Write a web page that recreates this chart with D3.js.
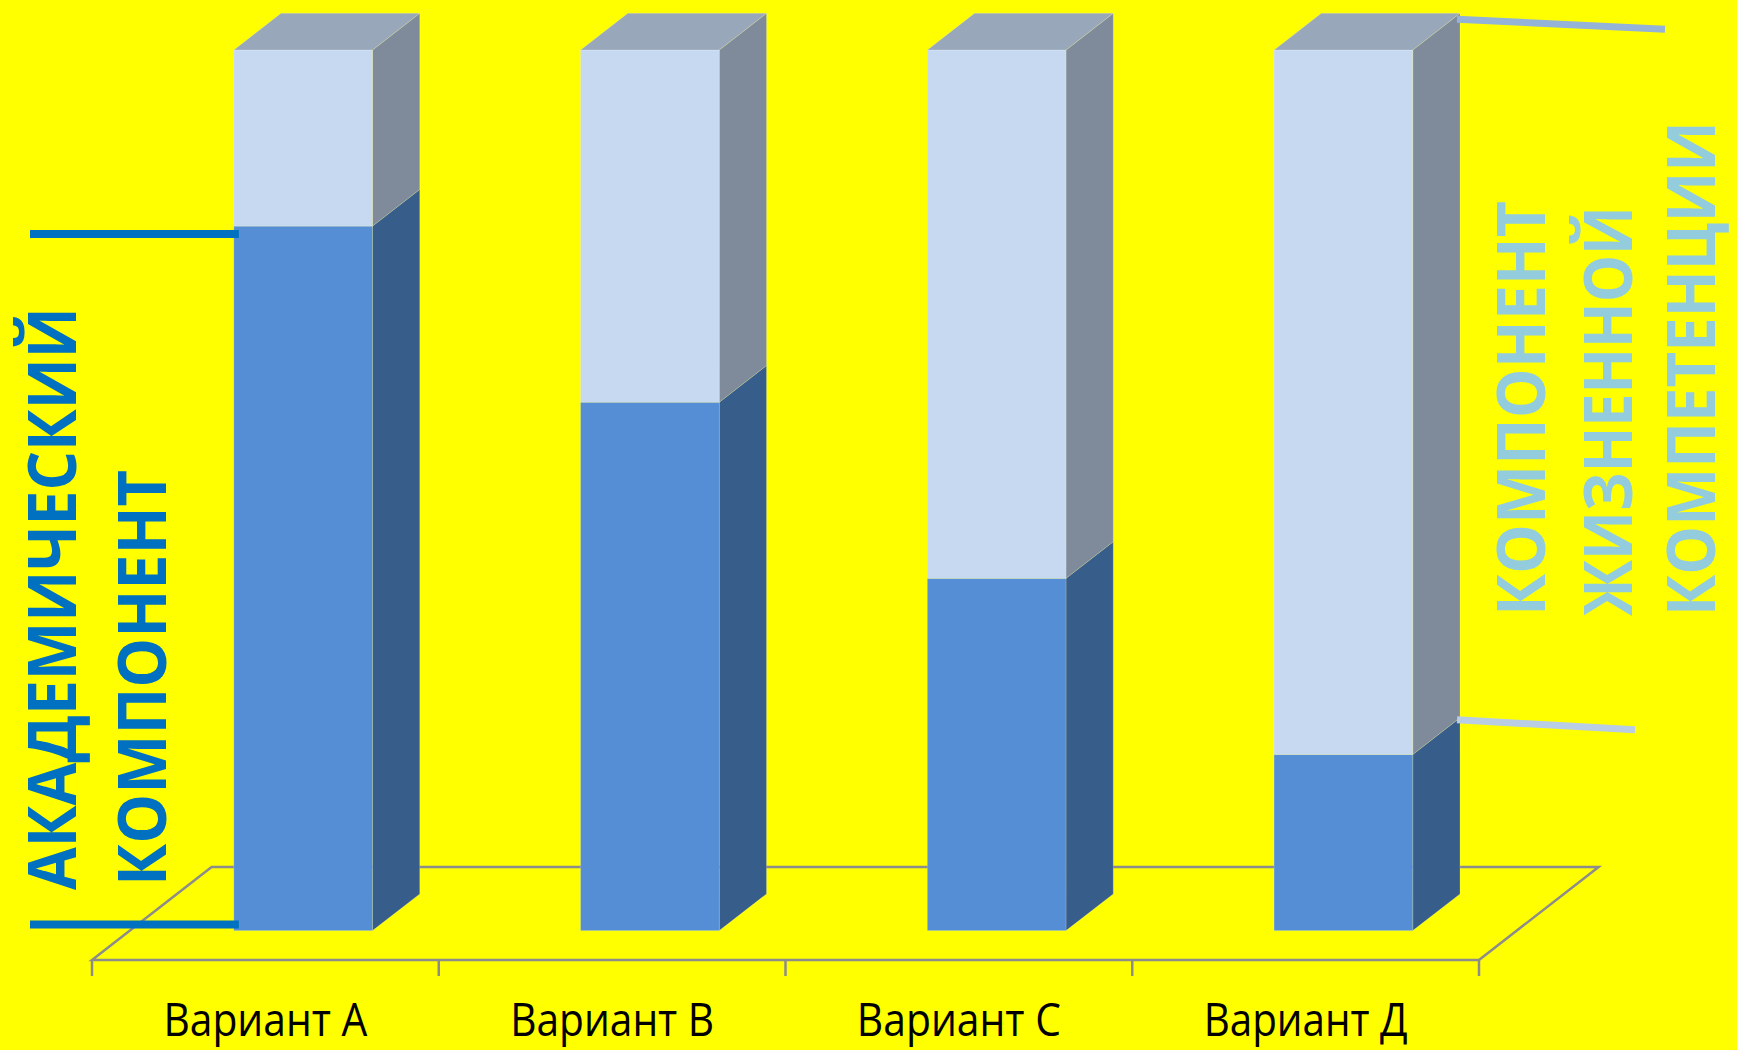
<!DOCTYPE html>
<html>
<head>
<meta charset="utf-8">
<script src="https://cdnjs.cloudflare.com/ajax/libs/d3/7.8.5/d3.min.js"></script>
<style>
	body { margin: 0; background: #ffff00; }
	#chart svg { display: block; }
</style>
</head>
<body>
<div id="chart"></div>
<script>

var categories = ["Вариант А", "Вариант В", "Вариант С", "Вариант Д"];
var academic = [80, 60, 40, 20];     // academic component, % (dark blue)
var lifeSkills = [20, 40, 60, 80];   // life competence component, % (light blue)
var leftTitle = ["АКАДЕМИЧЕСКИЙ", "КОМПОНЕНТ"];
var rightTitle = ["КОМПОНЕНТ", "ЖИЗНЕННОЙ", "КОМПЕТЕНЦИИ"];

function init(){

	var w = 1737;
	var h = 1050;

	// floor of the 3d plot, front edge and depth vector
	var floorLeft = 92;
	var floorRight = 1479;
	var floorFront = 960;
	var depthX = 119.6;
	var depthY = -93;

	// bars sit between these fractions of the floor depth
	var z0 = 0.316;
	var z1 = 0.711;

	var offX = z0 * depthX;
	var offY = z0 * depthY;
	var barDX = (z1 - z0) * depthX;
	var barDY = (z1 - z0) * depthY;

	var xScale = d3.scaleBand()
					.domain(categories)
					.range([floorLeft, floorRight])
					.paddingInner(0.6)
					.paddingOuter(0.3);

	var yScale = d3.scaleLinear()
					.domain([0, 100])
					.range([floorFront + offY, 50]);

	var svg = d3.select("#chart")
				.append("svg")
				.attr("width", w)
				.attr("height", h)
				.style("background", "#ffff00");

	// floor outline
	var floorPts = [
		[floorLeft, floorFront],
		[floorRight, floorFront],
		[floorRight + depthX, floorFront + depthY],
		[floorLeft + depthX, floorFront + depthY]
	];
	svg.append("polygon")
		.attr("points", floorPts.map(function(p){ return p.join(","); }).join(" "))
		.attr("fill", "none")
		.attr("stroke", "#8c8c8c")
		.attr("stroke-width", 2.5);

	// category axis along the front edge
	var step = xScale.step();
	var xAxis = d3.axisBottom(xScale)
					.tickSize(0)
					.tickPadding(76);
	var gx = svg.append("g")
		.attr("transform", "translate(0," + floorFront + ")")
		.call(xAxis);
	gx.select(".domain").remove();
	gx.selectAll("text")
		.attr("font-family", "'Open Sans', sans-serif")
		.attr("font-size", 45)
		.attr("fill", "#000")
		.attr("dy", "0")
		.attr("textLength", 204)
		.attr("lengthAdjust", "spacingAndGlyphs");

	var tickXs = d3.range(categories.length + 1).map(function(i){ return floorLeft + i * step; });
	svg.selectAll("line.tick")
		.data(tickXs)
		.enter()
		.append("line")
		.attr("class", "tick")
		.attr("x1", function(d){ return d; })
		.attr("x2", function(d){ return d; })
		.attr("y1", floorFront)
		.attr("y2", floorFront + 16)
		.attr("stroke", "#8c8c8c")
		.attr("stroke-width", 2.5);

	// stacked 3d bars
	var segColors = [
		{front: "#558ed5", side: "#375d8b", top: "#4a78b2"},
		{front: "#c6d9f1", side: "#7f8b9b", top: "#98a8ba"}
	];

	categories.forEach(function(c, i){
		var x0 = xScale(c) + offX;
		var x1 = x0 + xScale.bandwidth();
		var segs = [[0, academic[i]], [academic[i], academic[i] + lifeSkills[i]]];
		var g = svg.append("g");

		segs.forEach(function(s, k){
			var yb = yScale(s[0]);
			var yt = yScale(s[1]);
			var col = segColors[k];

			// right side
			g.append("polygon")
				.attr("points", [[x1, yb], [x1 + barDX, yb + barDY], [x1 + barDX, yt + barDY], [x1, yt]]
					.map(function(p){ return p.join(","); }).join(" "))
				.attr("fill", col.side)
				.attr("stroke", "rgba(255,255,255,0.18)")
				.attr("stroke-width", 1);

			// front
			g.append("rect")
				.attr("x", x0)
				.attr("y", yt)
				.attr("width", x1 - x0)
				.attr("height", yb - yt)
				.attr("fill", col.front)
				.attr("stroke", "rgba(255,255,255,0.18)")
				.attr("stroke-width", 1);

			// top, only for the last segment
			if (k == segs.length - 1)
			{
				g.append("polygon")
					.attr("points", [[x0, yt], [x1, yt], [x1 + barDX, yt + barDY], [x0 + barDX, yt + barDY]]
						.map(function(p){ return p.join(","); }).join(" "))
					.attr("fill", col.top)
					.attr("stroke", "rgba(255,255,255,0.18)")
					.attr("stroke-width", 1);
			}
		});
	});

	// left bracket lines
	var firstX = xScale(categories[0]) + offX;
	svg.selectAll("line.lbr")
		.data([yScale(academic[0]) + 8, yScale(0) - 6])
		.enter()
		.append("line")
		.attr("class", "lbr")
		.attr("x1", 30)
		.attr("x2", firstX + 5)
		.attr("y1", function(d){ return d; })
		.attr("y2", function(d){ return d; })
		.attr("stroke", "#0070c0")
		.attr("stroke-width", 8);

	// right bracket lines
	var last = categories.length - 1;
	var backX = xScale(categories[last]) + offX + xScale.bandwidth() + barDX - 3;
	var rightLines = [
		{y: yScale(100) + barDY + 6, x2: 1665, dy: 10, color: "#95b3d7"},
		{y: yScale(academic[last]) + barDY + 2, x2: 1635, dy: 10, color: "#b9cde5"}
	];
	svg.selectAll("line.rbr")
		.data(rightLines)
		.enter()
		.append("line")
		.attr("class", "rbr")
		.attr("x1", backX)
		.attr("x2", function(d){ return d.x2; })
		.attr("y1", function(d){ return d.y; })
		.attr("y2", function(d){ return d.y + d.dy; })
		.attr("stroke", function(d){ return d.color; })
		.attr("stroke-width", 7);

	// vertical titles
	var leftLen = [583, 416];
	var leftStart = [890, 886];
	svg.selectAll("text.lt")
		.data(leftTitle)
		.enter()
		.append("text")
		.attr("class", "lt")
		.text(function(d){ return d; })
		.attr("transform", function(d, i){
			return "translate(" + (76 + i * 90) + "," + leftStart[i] + ") rotate(-90)";
		})
		.attr("font-family", "'Open Sans', sans-serif")
		.attr("font-weight", "bold")
		.attr("font-size", 66)
		.attr("fill", "#0070c0")
		.attr("textLength", function(d, i){ return leftLen[i]; })
		.attr("lengthAdjust", "spacingAndGlyphs");

	var rightLen = [415, 410, 495];
	var rightX = [1545, 1632, 1715];
	svg.selectAll("text.rt")
		.data(rightTitle)
		.enter()
		.append("text")
		.attr("class", "rt")
		.text(function(d){ return d; })
		.attr("transform", function(d, i){
			return "translate(" + rightX[i] + ",616) rotate(-90)";
		})
		.attr("font-family", "'Open Sans', sans-serif")
		.attr("font-weight", "bold")
		.attr("font-size", 66)
		.attr("fill", "#93cddd")
		.attr("textLength", function(d, i){ return rightLen[i]; })
		.attr("lengthAdjust", "spacingAndGlyphs");

}

window.onload = init;
</script>
</body>
</html>
